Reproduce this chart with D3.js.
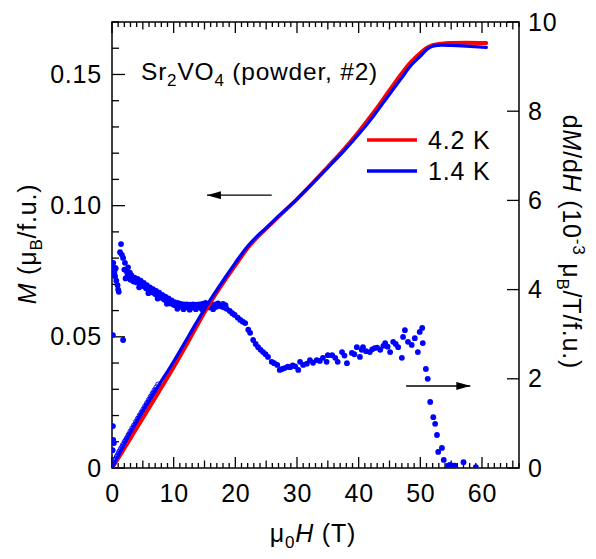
<!DOCTYPE html>
<html>
<head>
<meta charset="utf-8">
<script src="https://cdn.jsdelivr.net/npm/d3@7"></script>
<style>
  html, body { margin: 0; padding: 0; background: #fff; }
  svg { display: block; font-family: "Liberation Sans", Arial, Helvetica, sans-serif; }
  svg text { letter-spacing: 0.8px; }
</style>
</head>
<body>
<svg id="chart" width="596" height="559"></svg>
<script>
// Magnetization of Sr2VO4 powder in pulsed fields, with its field derivative.
const fieldTicks = [0, 10, 20, 30, 40, 50, 60];
const momentTicks = [0, 0.05, 0.10, 0.15];
const momentTickLabels = ["0", "0.05", "0.10", "0.15"];
const derivTicks = [0, 2, 4, 6, 8, 10];
const seriesNames = ["4.2 K", "1.4 K"];

// M(H) at 4.2 K: [field (T), moment (muB/f.u.)]
const moment42K = [
  [0, 0], [1, 0.0036], [2, 0.0074], [3.5, 0.0132], [5, 0.0190], [7.5, 0.0286], [10, 0.0384],
  [12.5, 0.0487], [15, 0.0593], [17, 0.0669], [18.5, 0.0722], [20, 0.0772], [21, 0.0806],
  [22, 0.0838], [23.5, 0.0878], [25, 0.0912], [27, 0.0958], [30, 0.1025], [32.5, 0.1085],
  [35, 0.1148], [37.5, 0.1212], [40, 0.1282], [42.5, 0.1358], [45, 0.1440], [47, 0.1505],
  [48.5, 0.1548], [50, 0.1582], [51, 0.1601], [52, 0.1612], [53.5, 0.1618], [55, 0.1620],
  [57.5, 0.1621], [60.7, 0.1620]
];

// M(H) at 1.4 K
const moment14K = [
  [0, 0], [1, 0.0046], [2, 0.0091], [3.5, 0.0156], [5, 0.0218], [7.5, 0.0312], [10, 0.0406],
  [12.5, 0.0506], [15, 0.0606], [17, 0.0679], [18.5, 0.0731], [20, 0.0782], [21, 0.0815],
  [22, 0.0845], [23.5, 0.0883], [25, 0.0915], [27, 0.0960], [30, 0.1025], [32.5, 0.1085],
  [35, 0.1145], [37.5, 0.1206], [40, 0.1272], [42.5, 0.1345], [45, 0.1425], [47, 0.1488],
  [48.5, 0.1535], [50, 0.1570], [51, 0.1594], [52, 0.1608], [53.5, 0.1612], [55, 0.1611],
  [57.5, 0.1608], [60.7, 0.1603]
];

// Low-field M(H) at 1.4 K from the up and down sweeps (open symbols)
const momentLowField = [
  [0.0, 0.0004], [0.3, 0.0020], [0.6, 0.0035], [0.9, 0.0048], [1.2, 0.0062], [1.5, 0.0075],
  [1.8, 0.0088], [2.1, 0.0101], [2.4, 0.0113], [2.7, 0.0126], [3.0, 0.0139], [3.3, 0.0151],
  [3.6, 0.0163], [3.9, 0.0176], [4.2, 0.0188], [4.5, 0.0200], [4.8, 0.0212], [5.1, 0.0224],
  [5.4, 0.0236], [5.7, 0.0248], [6.0, 0.0260], [6.3, 0.0272], [6.6, 0.0284], [6.9, 0.0296],
  [7.2, 0.0307], [7.5, 0.0318],
  [0.2, 0.0016], [0.5, 0.0029], [0.8, 0.0042], [1.1, 0.0055], [1.4, 0.0068], [1.7, 0.0081],
  [2.0, 0.0093], [2.3, 0.0105], [2.6, 0.0117], [2.9, 0.0129], [3.2, 0.0141], [3.5, 0.0153],
  [3.8, 0.0165], [4.1, 0.0177], [4.4, 0.0189], [4.7, 0.0201], [5.0, 0.0213], [5.3, 0.0225],
  [5.6, 0.0237], [5.9, 0.0249], [6.2, 0.0261], [6.5, 0.0273], [6.8, 0.0285], [7.1, 0.0296]
];

// dM/dH at 1.4 K: [field (T), dM/dH (1e-3 muB/T/f.u.)]
const derivative14K = [
  [0.1, 0.40], [0.3, 0.56], [0.2, 0.63], [0.15, 0.94], [0.15, 2.98], [1.8, 2.87],
  [0.2, 4.60], [0.3, 4.50], [0.4, 4.40], [0.5, 4.30], [0.7, 4.20], [0.9, 4.10], [1.0, 4.00], [1.1, 3.95],
  [0.3, 4.35], [0.6, 4.48],
  [1.46, 5.02], [1.3, 4.84], [1.6, 4.78], [1.8, 4.71], [2.1, 4.60], [2.0, 4.45], [2.4, 4.40],
  [2.6, 4.50], [2.9, 4.38], [2.2, 4.25], [2.5, 4.30], [2.8, 4.32], [3.0, 4.22], [3.3, 4.26],
  [3.5, 4.18], [3.8, 4.22], [4.0, 4.16], [4.3, 4.19], [4.5, 4.12], [4.8, 4.14], [5.0, 4.08],
  [5.3, 4.10], [5.5, 4.03], [5.8, 4.02], [6.0, 3.98], [6.3, 3.97], [6.5, 3.94], [6.8, 3.93],
  [7.0, 3.90], [7.3, 3.89], [7.5, 3.86], [7.8, 3.84], [8.0, 3.82], [8.3, 3.80], [8.5, 3.77],
  [8.8, 3.76], [9.0, 3.73], [9.3, 3.72], [9.5, 3.69], [9.8, 3.68], [10.0, 3.66], [10.3, 3.65],
  [10.5, 3.63], [10.8, 3.64], [11.0, 3.62], [11.3, 3.63], [11.5, 3.61], [11.8, 3.62], [12.0, 3.60],
  [12.3, 3.62], [12.5, 3.60], [12.8, 3.61], [13.0, 3.60], [13.3, 3.62], [13.5, 3.60], [13.8, 3.61],
  [14.0, 3.62], [14.3, 3.60], [14.5, 3.63], [14.8, 3.61], [15.0, 3.64], [15.3, 3.66], [15.5, 3.62],
  [15.8, 3.60], [16.0, 3.63], [16.3, 3.61], [16.6, 3.60], [17.0, 3.62], [17.4, 3.64], [17.8, 3.62],
  [3.15, 4.32], [3.65, 4.27], [4.15, 4.24], [4.65, 4.20], [5.15, 4.15], [5.65, 4.10], [6.15, 4.05],
  [6.65, 4.01], [7.15, 3.97], [7.65, 3.93], [8.15, 3.88], [8.65, 3.84], [9.15, 3.80], [9.65, 3.76],
  [10.15, 3.72], [10.65, 3.70], [11.15, 3.68], [11.65, 3.67], [12.15, 3.67], [12.65, 3.66],
  [13.15, 3.67], [13.65, 3.66], [14.15, 3.67], [14.65, 3.68], [15.15, 3.70], [15.65, 3.68],
  [16.15, 3.67], [16.8, 3.67], [17.2, 3.69], [18.0, 3.68], [18.4, 3.65],
  [4.4, 4.05], [5.9, 3.92], [7.4, 3.80], [8.9, 3.68], [10.6, 3.57], [11.6, 3.56], [12.6, 3.55],
  [13.6, 3.56], [14.6, 3.56], [16.4, 3.56],
  [18.2, 3.60], [18.6, 3.57], [19.1, 3.52], [19.5, 3.47], [19.9, 3.43], [20.4, 3.37], [20.8, 3.32],
  [21.2, 3.28], [21.6, 3.25], [22.1, 3.10], [22.4, 3.03], [22.9, 2.87], [23.3, 2.78], [23.7, 2.71],
  [24.1, 2.65], [24.5, 2.60], [24.9, 2.55], [25.3, 2.49], [25.9, 2.38], [26.3, 2.35], [26.8, 2.31],
  [27.2, 2.20], [27.6, 2.22], [28.0, 2.24], [28.5, 2.27], [28.9, 2.26], [29.3, 2.30], [29.7, 2.28],
  [30.2, 2.20], [30.5, 2.38], [31.0, 2.31], [31.6, 2.34], [32.1, 2.42], [32.6, 2.36], [33.2, 2.42],
  [33.7, 2.40], [34.2, 2.47], [34.8, 2.38], [35.0, 2.53], [35.7, 2.53], [36.2, 2.47], [36.6, 2.38],
  [37.3, 2.60], [37.7, 2.52], [38.1, 2.35], [38.9, 2.58], [39.3, 2.55], [39.7, 2.71], [40.2, 2.49],
  [40.5, 2.65], [40.7, 2.71], [41.2, 2.62], [41.8, 2.60], [42.2, 2.66], [42.6, 2.69], [43.0, 2.70],
  [43.5, 2.65], [44.0, 2.74], [44.3, 2.80], [44.7, 2.72], [45.1, 2.60], [45.6, 2.83], [46.0, 2.78],
  [46.4, 2.71], [47.0, 2.47], [47.2, 2.94], [47.5, 3.09], [48.0, 2.83], [48.6, 2.76], [49.1, 2.91],
  [49.6, 2.60], [49.9, 3.05], [50.3, 3.14], [50.4, 2.80], [50.9, 2.22], [51.2, 2.00], [51.6, 1.48],
  [52.1, 1.14], [52.4, 0.99], [52.7, 0.74], [52.9, 0.36], [53.5, 0.45], [53.8, 0.18], [54.5, 0.05],
  [54.8, 0.07], [55.2, 0.05], [55.6, 0.05], [57.0, 0.13], [59.0, 0.02]
];

const colors = { red: "#ff0000", blue: "#0000ff" };
const fontSize = 25, subSize = 17;

const svg = d3.select("#chart");
const frame = { left: 112, right: 519, top: 22, bottom: 468 };

const x = d3.scaleLinear().domain([0, 66]).range([frame.left, frame.right]);
const yM = d3.scaleLinear().domain([0, 0.17]).range([frame.bottom, frame.top]);
const yD = d3.scaleLinear().domain([0, 10]).range([frame.bottom, frame.top]);

svg.append("clipPath").attr("id", "plotclip")
  .append("rect")
  .attr("x", frame.left).attr("y", frame.top - 4)
  .attr("width", frame.right - frame.left).attr("height", frame.bottom - frame.top + 4);

// Field axes (bottom and top) with inward ticks every 1 T
const minorField = d3.range(0, 67, 1);
function fieldAxis(g, dir) {
  const sign = dir === "bottom" ? -1 : 1;
  const y0 = dir === "bottom" ? frame.bottom : frame.top;
  g.selectAll("line.t").data(minorField).join("line")
    .attr("class", "t")
    .attr("x1", d => x(d)).attr("x2", d => x(d))
    .attr("y1", y0)
    .attr("y2", d => y0 + sign * (d % 10 === 0 ? 11 : d % 5 === 0 ? 7.5 : 5))
    .attr("stroke", "#000").attr("stroke-width", 1.3);
}
fieldAxis(svg.append("g"), "bottom");
fieldAxis(svg.append("g"), "top");

function styleTickText(sel) {
  sel.attr("font-size", fontSize).attr("font-family", "Liberation Sans, Arial, sans-serif").attr("fill", "#000");
}

const bottomAxis = d3.axisBottom(x).tickValues(fieldTicks).tickSize(0).tickPadding(16);
svg.append("g").attr("transform", `translate(0,${frame.bottom})`).call(bottomAxis)
  .call(g => g.select(".domain").remove())
  .selectAll("text").call(styleTickText);

// Left axis: moment, minor ticks every 0.01
const minorM = d3.range(0, 0.1701, 0.01);
svg.append("g").selectAll("line").data(minorM).join("line")
  .attr("x1", frame.left)
  .attr("x2", (d, i) => frame.left + (i % 5 === 0 ? 13 : 7))
  .attr("y1", d => yM(d)).attr("y2", d => yM(d))
  .attr("stroke", "#000").attr("stroke-width", 1.3);
const leftAxis = d3.axisLeft(yM).tickValues(momentTicks)
  .tickFormat((d, i) => momentTickLabels[i]).tickSize(0).tickPadding(10);
svg.append("g").attr("transform", `translate(${frame.left},0)`).call(leftAxis)
  .call(g => g.select(".domain").remove())
  .selectAll("text").call(styleTickText);

// Right axis: dM/dH
svg.append("g").selectAll("line").data(derivTicks).join("line")
  .attr("x1", frame.right).attr("x2", frame.right - 12)
  .attr("y1", d => yD(d)).attr("y2", d => yD(d))
  .attr("stroke", "#000").attr("stroke-width", 1.3);
const rightAxis = d3.axisRight(yD).tickValues(derivTicks).tickSize(0).tickPadding(9);
svg.append("g").attr("transform", `translate(${frame.right},0)`).call(rightAxis)
  .call(g => g.select(".domain").remove())
  .selectAll("text").call(styleTickText);

// Frame
svg.append("rect")
  .attr("x", frame.left).attr("y", frame.top)
  .attr("width", frame.right - frame.left).attr("height", frame.bottom - frame.top)
  .attr("fill", "none").attr("stroke", "#000").attr("stroke-width", 1.5);

const plot = svg.append("g").attr("clip-path", "url(#plotclip)");

// dM/dH points
plot.append("g").selectAll("circle").data(derivative14K).join("circle")
  .attr("cx", d => x(d[0])).attr("cy", d => yD(d[1])).attr("r", 2.9)
  .attr("fill", colors.blue);

// Low-field open symbols
plot.append("g").selectAll("circle").data(momentLowField).join("circle")
  .attr("cx", d => x(d[0])).attr("cy", d => yM(d[1])).attr("r", 2.6)
  .attr("fill", "none").attr("stroke", colors.blue).attr("stroke-width", 0.9);

// M(H) curves
const line = d3.line().x(d => x(d[0])).y(d => yM(d[1])).curve(d3.curveMonotoneX);
plot.append("path").datum(moment42K).attr("d", line)
  .attr("fill", "none").attr("stroke", colors.red).attr("stroke-width", 3.8)
  .attr("stroke-linejoin", "round").attr("stroke-linecap", "round");
plot.append("path").datum(moment14K).attr("d", line)
  .attr("fill", "none").attr("stroke", colors.blue).attr("stroke-width", 3.3)
  .attr("stroke-linejoin", "round").attr("stroke-linecap", "round");

// Arrows pointing to the relevant axes
const defs = svg.append("defs");
defs.append("marker").attr("id", "arrowhead")
  .attr("viewBox", "0 0 14 8").attr("refX", 14).attr("refY", 4)
  .attr("markerWidth", 14).attr("markerHeight", 8).attr("markerUnits", "userSpaceOnUse")
  .attr("orient", "auto")
  .append("path").attr("d", "M0,0 L14,4 L0,8 Z").attr("fill", "#000");
svg.append("line")
  .attr("x1", x(25.9)).attr("x2", x(15.4))
  .attr("y1", yM(0.104)).attr("y2", yM(0.104))
  .attr("stroke", "#000").attr("stroke-width", 1.4).attr("marker-end", "url(#arrowhead)");
svg.append("line")
  .attr("x1", x(47.7)).attr("x2", x(58.1))
  .attr("y1", yD(1.84)).attr("y2", yD(1.84))
  .attr("stroke", "#000").attr("stroke-width", 1.4).attr("marker-end", "url(#arrowhead)");

// Sample label
const title = svg.append("text").attr("x", 141).attr("y", 80).attr("font-size", fontSize - 0.5).attr("fill", "#000");
title.append("tspan").text("Sr");
title.append("tspan").attr("dy", 6).attr("font-size", subSize).text("2");
title.append("tspan").attr("dy", -6).text("VO");
title.append("tspan").attr("dy", 6).attr("font-size", subSize).text("4");
title.append("tspan").attr("dy", -6).text(" (powder, #2)");

// Legend
const legend = svg.append("g");
const legendRows = [{ name: seriesNames[0], color: colors.red, y: 140 }, { name: seriesNames[1], color: colors.blue, y: 171 }];
legendRows.forEach(r => {
  legend.append("line").attr("x1", 367).attr("x2", 417).attr("y1", r.y).attr("y2", r.y)
    .attr("stroke", r.color).attr("stroke-width", 3.4);
  legend.append("text").attr("x", 428).attr("y", r.y + 9).attr("font-size", fontSize).attr("fill", "#000").text(r.name);
});

// Axis titles
const xt = svg.append("text").attr("x", 313).attr("y", 542).attr("text-anchor", "middle").attr("font-size", fontSize);
xt.append("tspan").text("μ");
xt.append("tspan").attr("dy", 6).attr("font-size", subSize).text("0");
xt.append("tspan").attr("dy", -6).attr("font-style", "italic").text("H");
xt.append("tspan").text(" (T)");

const yl = svg.append("text").attr("transform", "translate(36,244) rotate(-90)")
  .attr("text-anchor", "middle").attr("font-size", fontSize);
yl.append("tspan").attr("font-style", "italic").text("M");
yl.append("tspan").text(" (μ");
yl.append("tspan").attr("dy", 6).attr("font-size", subSize).text("B");
yl.append("tspan").attr("dy", -6).text("/f.u.)");

const yr = svg.append("text").attr("transform", "translate(563,242) rotate(90)")
  .attr("text-anchor", "middle").attr("font-size", fontSize);
yr.append("tspan").text("d");
yr.append("tspan").attr("font-style", "italic").text("M");
yr.append("tspan").text("/d");
yr.append("tspan").attr("font-style", "italic").text("H");
yr.append("tspan").text(" (10");
yr.append("tspan").attr("dy", -10).attr("font-size", subSize).text("-3");
yr.append("tspan").attr("dy", 10).text(" μ");
yr.append("tspan").attr("dy", 6).attr("font-size", subSize).text("B");
yr.append("tspan").attr("dy", -6).text("/T/f.u.)");
</script>
</body>
</html>
